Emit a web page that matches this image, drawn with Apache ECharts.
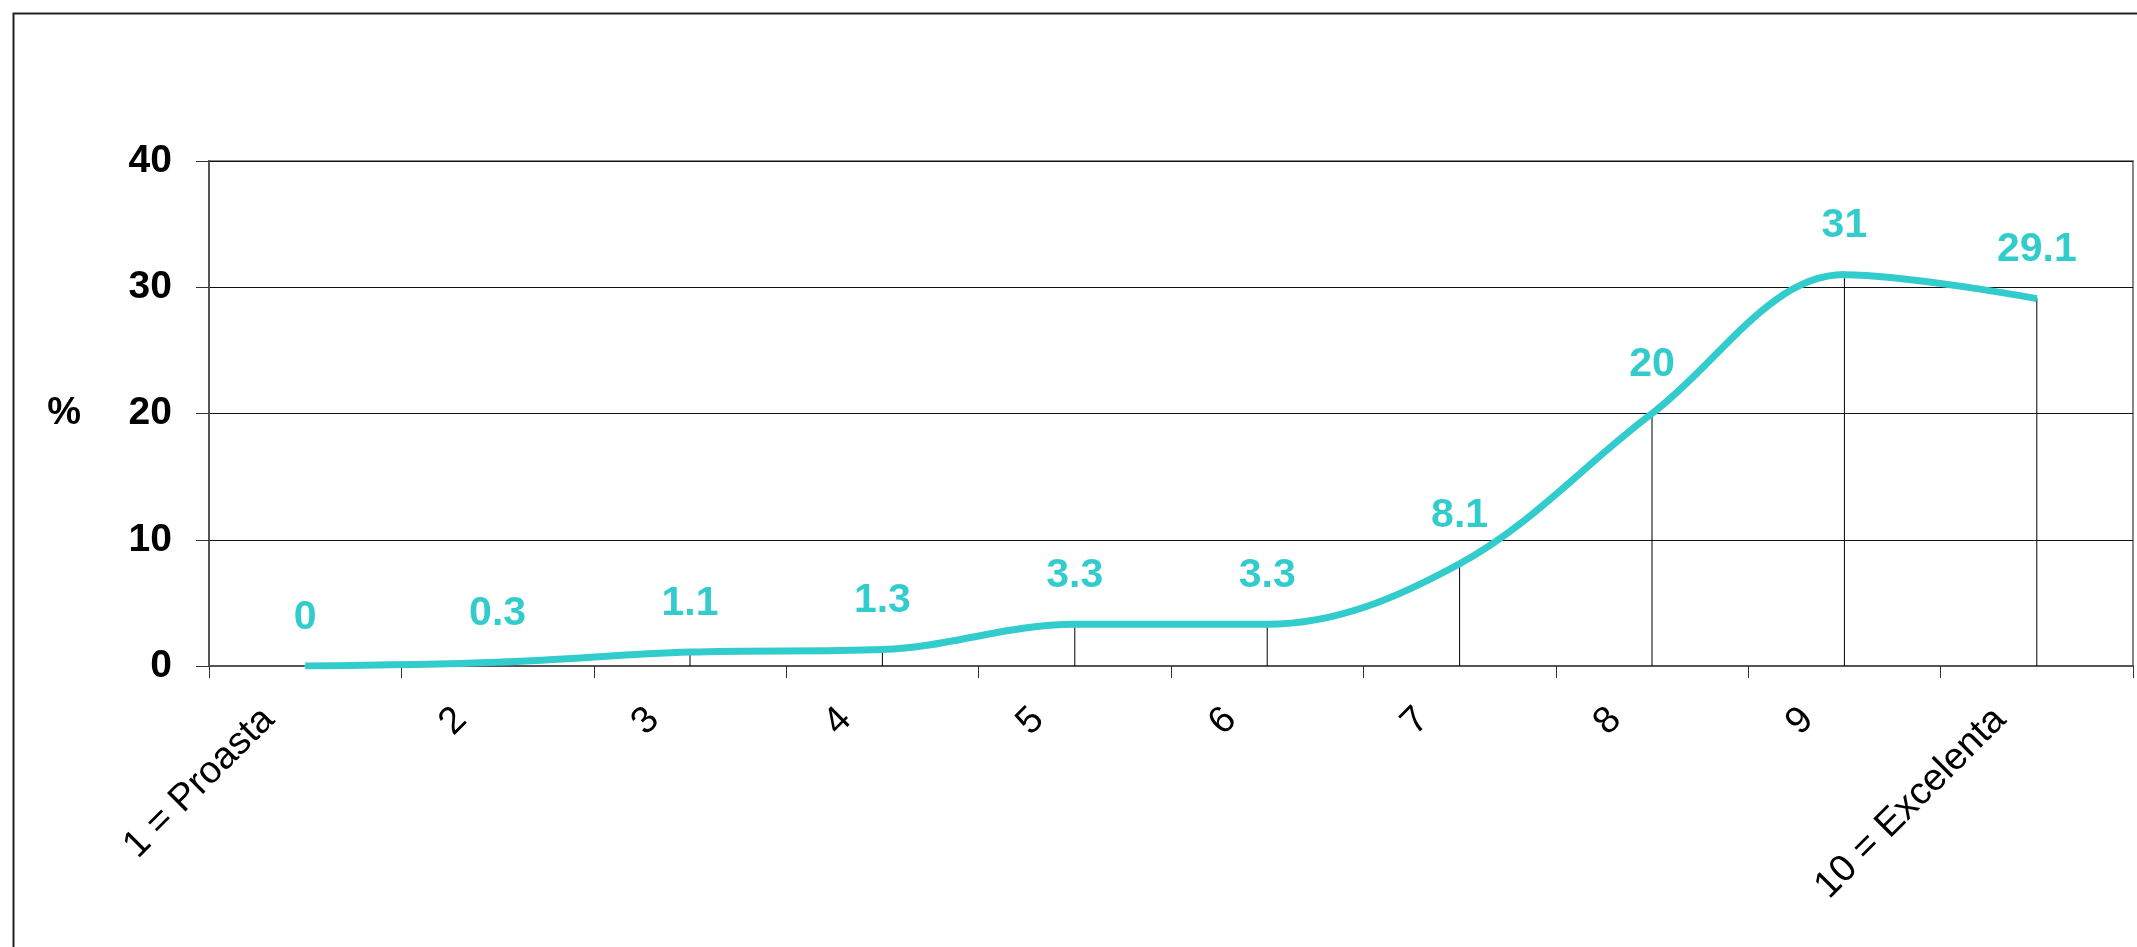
<!DOCTYPE html>
<html>
<head>
<meta charset="utf-8">
<script src="https://cdn.jsdelivr.net/npm/echarts@6/dist/echarts.min.js"></script>
<style>
html,body{margin:0;padding:0;background:#fff;}
#chart{width:2137px;height:947px;}
</style>
</head>
<body>
<div id="chart"></div>
<script>
const categories = ['1 = Proasta','2','3','4','5','6','7','8','9','10 = Excelenta'];
const values = [0, 0.3, 1.1, 1.3, 3.3, 3.3, 8.1, 20, 31, 29.1];
const yTicks = [0, 10, 20, 30, 40];
const yName = '%';

const teal = '#33CCCC';
const font = '"Liberation Sans", Arial, Helvetica, sans-serif';

const chart = echarts.init(document.getElementById('chart'));
chart.setOption({
  backgroundColor: '#fff',
  animation: false,
  graphic: [{
    type: 'rect', left: 11, top: 11, silent: true,
    shape: {width: 2300, height: 1100},
    style: {fill: 'none', stroke: '#222', lineWidth: 2}
  }],
  grid: {left: 209, right: 4, top: 161, bottom: 281, show: true, borderColor: '#888', borderWidth: 2, backgroundColor: 'transparent'},
  xAxis: {
    type: 'category',
    data: categories,
    boundaryGap: true,
    axisLine: {lineStyle: {color: '#555', width: 2}},
    axisTick: {show: true, length: 12, alignWithLabel: false, lineStyle: {color: '#333', width: 1}},
    axisLabel: {
      interval: 0, rotate: 45, margin: 11,
      fontFamily: font, fontSize: 38, color: '#000',
      padding: [0, 52, 0, 0]
    },
    splitLine: {show: false}
  },
  yAxis: {
    type: 'value',
    min: yTicks[0], max: yTicks[yTicks.length - 1], interval: 10,
    name: yName,
    nameLocation: 'middle',
    nameRotate: 0,
    nameGap: 128,
    nameTextStyle: {fontFamily: font, fontSize: 38, fontWeight: 'bold', color: '#000'},
    axisLine: {show: true, lineStyle: {color: '#555', width: 2}},
    axisTick: {show: true, length: 13, lineStyle: {color: '#333', width: 1}},
    axisLabel: {margin: 37, fontFamily: font, fontSize: 39, fontWeight: 'bold', color: '#000'},
    splitLine: {show: true, lineStyle: {color: '#111', width: 1}}
  },
  series: [
    {
      type: 'bar',
      data: values,
      barWidth: 1,
      itemStyle: {color: '#000'},
      silent: true,
      z: 1
    },
    {
      type: 'line',
      data: values,
      smooth: 0.35,
      symbol: 'circle',
      symbolSize: 2,
      showSymbol: true,
      itemStyle: {color: teal},
      lineStyle: {color: teal, width: 7},
      label: {
        show: true, position: 'top', distance: 27,
        fontFamily: font, fontSize: 41, fontWeight: 'bold', color: teal
      },
      labelLayout: {hideOverlap: false},
      z: 3
    }
  ]
});
</script>
</body>
</html>
